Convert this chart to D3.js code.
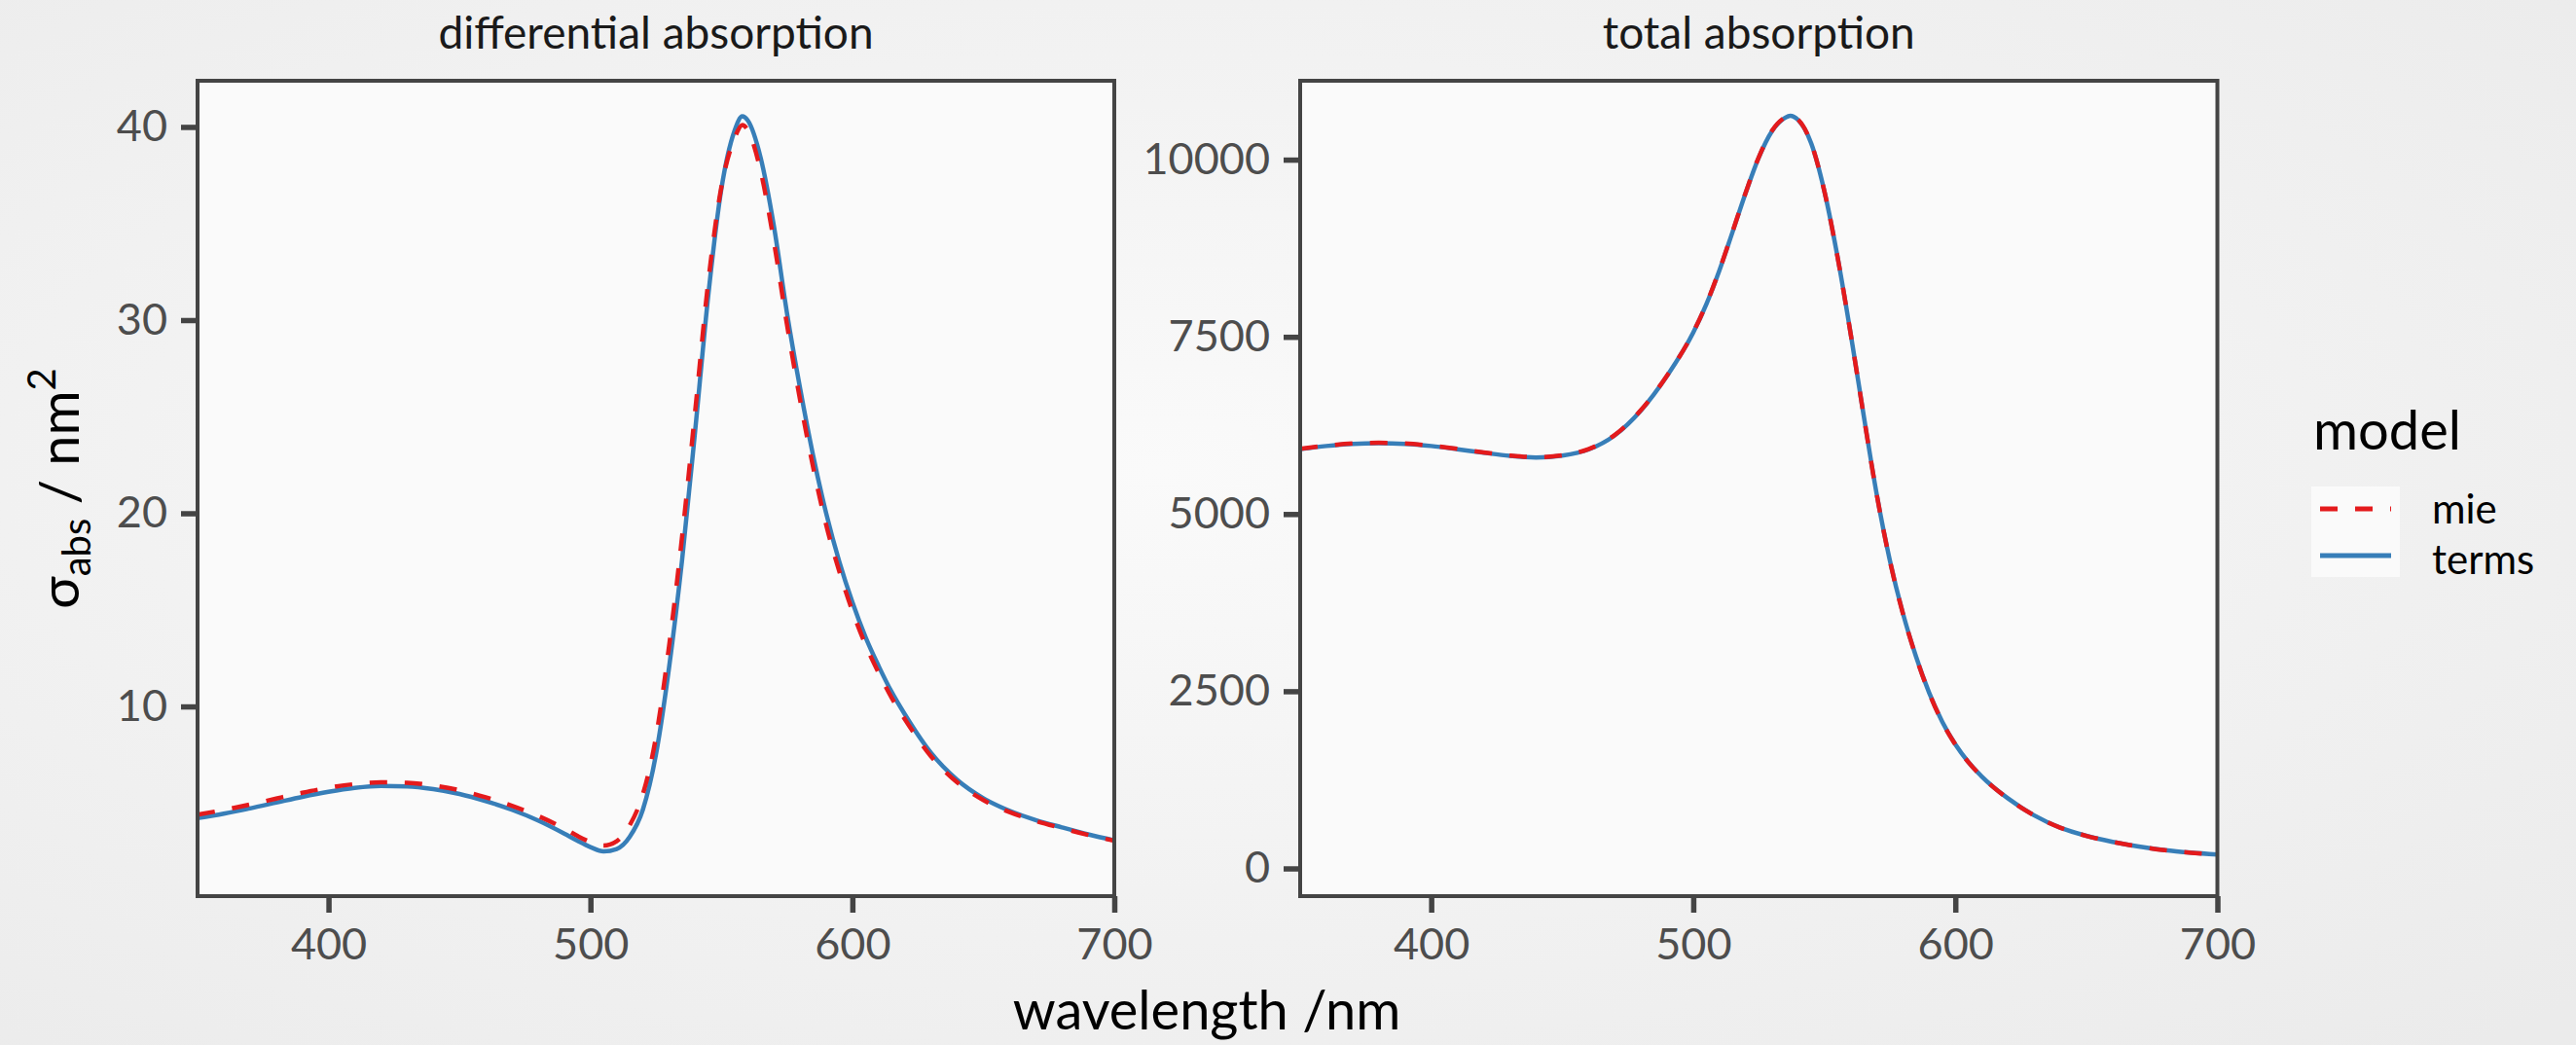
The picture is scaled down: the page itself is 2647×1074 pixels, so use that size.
<!DOCTYPE html>
<html lang="en">
<head>
    <meta charset="UTF-8">
    <title>Absorption cross sections</title>
    <script src="https://d3js.org/d3.v7.min.js"></script>
    <style>
        body { margin: 0; background: #f2f2f2; }
        svg { display: block; font-family: Lato, "Open Sans", sans-serif; }
        .tick text { fill: #4d4d4d; font-size: 45px; font-family: Lato, sans-serif; }
        .tick line { stroke: #444; stroke-width: 5.5; }
        .domain { display: none; }
    </style>
</head>
<body>
<svg id="chart" width="2647" height="1074"></svg>
<script>
    // ---- data ----
    const models = ['mie', 'terms'];
    const xTicks = [400, 500, 600, 700];

    // differential absorption (nm^2)
    const diffWavelength = [350, 360, 370, 380, 390, 400, 410, 420, 430, 440, 450, 460, 470, 480, 490, 495,
        500, 505, 510, 515, 520, 525, 530, 535, 540, 545, 550, 555, 558, 560, 565, 570, 575, 580, 585,
        590, 595, 600, 605, 610, 615, 620, 630, 640, 650, 660, 670, 680, 690, 700];
    const diffTerms = [4.22, 4.45, 4.72, 5.02, 5.32, 5.58, 5.78, 5.88, 5.86, 5.72, 5.47, 5.10, 4.65, 4.10, 3.42, 3.05,
        2.72, 2.50, 2.62, 3.25, 4.65, 7.5, 12.0, 17.6, 24.3, 31.3, 36.8, 39.8, 40.55, 40.35, 38.4, 34.9, 30.4, 26.5, 23.0,
        20.0, 17.5, 15.4, 13.6, 12.1, 10.75, 9.6, 7.6, 6.2, 5.25, 4.6, 4.12, 3.74, 3.38, 3.07];
    const diffMie = [4.40, 4.64, 4.92, 5.23, 5.53, 5.79, 5.98, 6.07, 6.05, 5.91, 5.66, 5.30, 4.86, 4.33, 3.68, 3.30,
        2.98, 2.80, 3.02, 3.85, 5.45, 8.4, 13.1, 18.8, 25.3, 32.0, 36.9, 39.4, 40.1, 39.85, 37.7, 34.1, 29.8, 25.9, 22.4,
        19.4, 17.0, 14.95, 13.2, 11.75, 10.45, 9.35, 7.42, 6.07, 5.15, 4.53, 4.07, 3.70, 3.35, 3.05];
    const diffTicks = [10, 20, 30, 40];

    // total absorption (nm^2)
    const totalWavelength = [350, 360, 370, 380, 390, 400, 410, 420, 430, 440, 450, 460, 470, 480, 490, 500, 505,
        510, 515, 520, 525, 530, 535, 537, 540, 545, 550, 555, 560, 565, 570, 575, 580, 585, 590, 595, 600,
        605, 610, 620, 630, 640, 650, 660, 670, 680, 690, 700];
    const totalTerms = [5915, 5960, 5990, 6000, 5990, 5960, 5915, 5865, 5820, 5798, 5825, 5910, 6110, 6460, 6950, 7560, 7960,
        8440, 8980, 9530, 10030, 10400, 10590, 10620, 10560, 10230, 9560, 8640, 7560, 6400, 5280, 4350, 3600, 2990, 2480, 2070, 1750,
        1500, 1300, 990, 750, 575, 460, 375, 310, 258, 222, 195];
    const totalMie = [5920, 5965, 5995, 6005, 5995, 5965, 5920, 5870, 5825, 5802, 5830, 5915, 6115, 6465, 6955, 7565, 7965,
        8445, 8985, 9535, 10035, 10405, 10595, 10625, 10565, 10232, 9560, 8638, 7555, 6395, 5275, 4345, 3595, 2986, 2476, 2067, 1748,
        1498, 1298, 988, 749, 574, 459, 374, 309, 257, 221, 194];
    const totalTicks = [0, 2500, 5000, 7500, 10000];

    const colors = { mie: '#e41a1c', terms: '#377eb8' };

    // ---- layout ----
    const panelTop = 83, panelBottom = 921;
    const panels = [
        { title: 'differential absorption', left: 203, right: 1145, wl: diffWavelength,
          series: { mie: diffMie, terms: diffTerms }, yDomain: [0.18, 42.39], yTicks: diffTicks },
        { title: 'total absorption', left: 1336, right: 2278.5, wl: totalWavelength,
          series: { mie: totalMie, terms: totalTerms }, yDomain: [-391, 11113], yTicks: totalTicks }
    ];

    const svg = d3.select('#chart');

    // soft radial background
    const grad = svg.append('defs').append('radialGradient')
        .attr('id', 'bg').attr('cx', '45%').attr('cy', '45%').attr('r', '75%');
    grad.append('stop').attr('offset', '0%').attr('stop-color', '#fafafa');
    grad.append('stop').attr('offset', '100%').attr('stop-color', '#ebebeb');
    svg.append('rect').attr('width', 2647).attr('height', 1074).attr('fill', 'url(#bg)');

    panels.forEach(p => {
        const g = svg.append('g');
        const x = d3.scaleLinear().domain([350, 700]).range([p.left, p.right]);
        const y = d3.scaleLinear().domain(p.yDomain).range([panelBottom, panelTop]);

        g.append('rect')
            .attr('x', p.left).attr('y', panelTop)
            .attr('width', p.right - p.left).attr('height', panelBottom - panelTop)
            .attr('fill', '#fafafa');

        // terms first, dashed mie on top
        ['terms', 'mie'].forEach(m => {
            const line = d3.line()
                .x((d, i) => x(p.wl[i]))
                .y(d => y(d))
                .curve(d3.curveMonotoneX);
            g.append('path')
                .datum(p.series[m])
                .attr('d', line)
                .attr('fill', 'none')
                .attr('stroke', colors[m])
                .attr('stroke-width', 4.5)
                .attr('stroke-dasharray', m === 'mie' ? '18,18' : null);
        });

        g.append('rect')
            .attr('x', p.left).attr('y', panelTop)
            .attr('width', p.right - p.left).attr('height', panelBottom - panelTop)
            .attr('fill', 'none').attr('stroke', '#444').attr('stroke-width', 4);

        g.append('g')
            .attr('transform', `translate(0,${panelBottom})`)
            .call(d3.axisBottom(x).tickValues(xTicks).tickSize(17).tickPadding(16));

        g.append('g')
            .attr('transform', `translate(${p.left},0)`)
            .call(d3.axisLeft(y).tickValues(p.yTicks).tickFormat(d3.format('d')).tickSize(17).tickPadding(14));

        // facet title
        g.append('text')
            .attr('x', (p.left + p.right) / 2).attr('y', 50)
            .attr('text-anchor', 'middle')
            .style('font-size', '46px').style('fill', '#1a1a1a')
            .text(p.title);
    });

    // axis titles
    svg.append('text')
        .attr('x', 1240).attr('y', 1058)
        .attr('text-anchor', 'middle')
        .style('font-size', '56px')
        .text('wavelength /nm');

    const yLab = svg.append('text')
        .attr('transform', 'translate(81,502) rotate(-90)')
        .attr('text-anchor', 'middle')
        .style('font-size', '56px');
    yLab.append('tspan').text('σ');
    yLab.append('tspan').attr('dy', 12).style('font-size', '40px').text('abs');
    yLab.append('tspan').attr('dy', -12).text(' / nm');
    yLab.append('tspan').attr('dy', -24).style('font-size', '40px').text('2');

    // legend
    const legend = svg.append('g');
    legend.append('text')
        .attr('x', 2377).attr('y', 462)
        .style('font-size', '56px')
        .text('model');
    legend.append('rect')
        .attr('x', 2375).attr('y', 500).attr('width', 91).attr('height', 93)
        .attr('fill', '#fafafa');
    models.forEach((m, i) => {
        const cy = 523 + i * 48;
        legend.append('line')
            .attr('x1', 2384).attr('x2', 2457).attr('y1', cy).attr('y2', cy)
            .attr('stroke', colors[m]).attr('stroke-width', 5)
            .attr('stroke-dasharray', m === 'mie' ? '18,18' : null);
        legend.append('text')
            .attr('x', 2499).attr('y', 538 + i * 52)
            .style('font-size', '42px')
            .text(m);
    });
</script>
</body>
</html>
